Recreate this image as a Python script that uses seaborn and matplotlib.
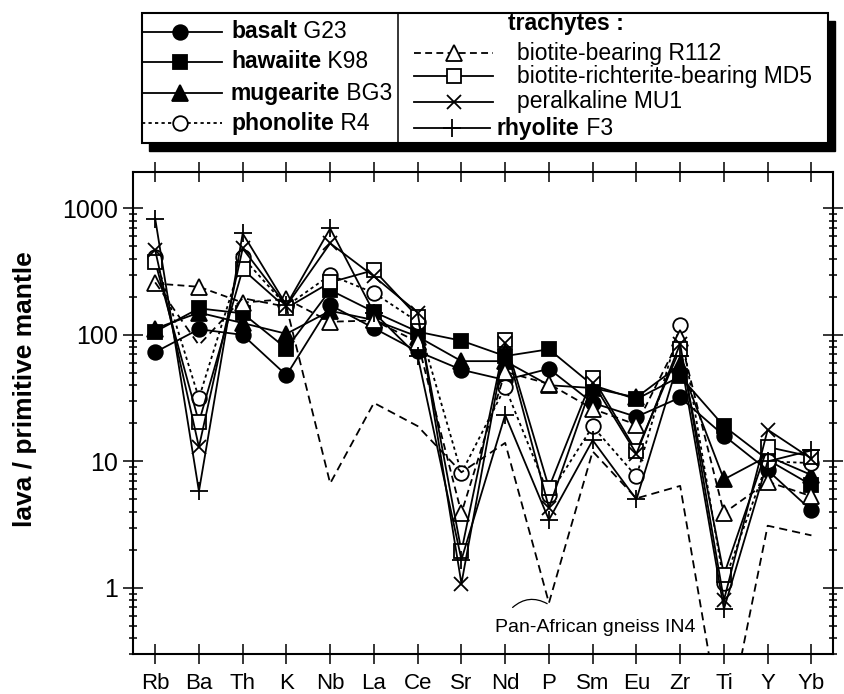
import numpy as np
import pandas as pd
import matplotlib
matplotlib.use("Agg")
import matplotlib.pyplot as plt
import seaborn as sns
from matplotlib.lines import Line2D
from matplotlib.patches import Rectangle
from matplotlib.ticker import LogLocator, NullLocator, NullFormatter, FuncFormatter

plt.rcParams['font.family'] = ['Liberation Sans', 'DejaVu Sans']

# ---------------- data ----------------
elements = ["Rb", "Ba", "Th", "K", "Nb", "La", "Ce", "Sr",
            "Nd", "P", "Sm", "Eu", "Zr", "Ti", "Y", "Yb"]

basalt_G23    = [73, 111, 100, 48, 172, 113, 74, 53, 44, 54, 29, 22.5, 32, 16, 8.5, 4.1]
hawaiite_K98  = [106, 162, 148, 78, 226, 152, 106, 90, 68, 77, 40, 31, 47, 19, 10.3, 6.5]
mugearite_BG3 = [112, 150, 124, 102, 155, 131, 97, 62, 62, 40, 38, 32, 58, 7.2, 11, 7.8]
phonolite_R4  = [410, 31.6, 410, 169, 297, 215, 127, 8.1, 38.6, 5.4, 18.9, 7.6, 120, 1.1, 10, 9.7]
biotite_R112  = [255, 240, 180, 192, 127, 130, 88, 3.9, 51, 41, 26, 19.5, 95, 3.9, 6.9, 5.3]
bio_rich_MD5  = [378, 20.4, 330, 163, 260, 325, 139, 1.95, 91, 6.2, 46, 12, 78, 1.27, 13, 10.9]
peralk_MU1    = [468, 13, 482, 170, 530, 290, 150, 1.08, 86, 4.3, 42, 11.5, 85, 0.8, 17.8, 10.5]
rhyolite_F3   = [832, 5.8, 634, 172, 694, 150, 68, 1.67, 23.3, 3.45, 14.7, 5.0, 68, 0.68, 10, 12.2]
gneiss_IN4    = [260, 83, 195, 167, 6.7, 29, 19, 8.2, 14, 0.76, 12, 5.1, 6.4, 0.06, 3.1, 2.6]

series_names = ["basalt G23", "hawaiite K98", "mugearite BG3", "phonolite R4",
                "biotite-bearing R112", "biotite-richterite-bearing MD5",
                "peralkaline MU1", "rhyolite F3", "Pan-African gneiss IN4"]
series_values = [basalt_G23, hawaiite_K98, mugearite_BG3, phonolite_R4,
                 biotite_R112, bio_rich_MD5, peralk_MU1, rhyolite_F3, gneiss_IN4]

# ---------------- styles ----------------
LW = 1.3
DOT = (0, (1.8, 1.8))
DASH = (0, (3.8, 2.4))
GDASH = (0, (4.5, 2.8))
styles = {
    "basalt G23":    dict(marker='o', ms=10.5, mfc='black', ls='-'),
    "hawaiite K98":  dict(marker='s', ms=9.5, mfc='black', ls='-'),
    "mugearite BG3": dict(marker='^', ms=11, mfc='black', ls='-'),
    "phonolite R4":  dict(marker='o', ms=10.5, mfc='white', ls=DOT),
    "biotite-bearing R112": dict(marker='^', ms=11, mfc='white', ls=DASH),
    "biotite-richterite-bearing MD5": dict(marker='s', ms=9.5, mfc='white', ls='-'),
    "peralkaline MU1": dict(marker='x', ms=10.5, mfc='black', ls='-'),
    "rhyolite F3":   dict(marker='+', ms=13, mfc='black', ls='-'),
    "Pan-African gneiss IN4": dict(marker=None, ms=0, mfc='black', ls=GDASH),
}

rows = []
for name, vals in zip(series_names, series_values):
    for i, (el, v) in enumerate(zip(elements, vals)):
        rows.append(dict(series=name, element=el, pos=i, value=v))
df = pd.DataFrame(rows)

W, H = 844, 694
fig = plt.figure(figsize=(W / 100, H / 100), dpi=100)
ax = fig.add_axes([133.3 / W, (H - 654) / H, 700 / W, 482 / H])

for name in series_names:
    st = styles[name]
    sub = df[df.series == name]
    kw = dict(color='black', linewidth=LW, linestyle=st['ls'])
    if st['marker'] is not None:
        kw.update(marker=st['marker'], markersize=st['ms'],
                  markerfacecolor=st['mfc'], markeredgecolor='black',
                  markeredgewidth=1.3)
    sns.lineplot(data=sub, x='pos', y='value', ax=ax, estimator=None,
                 sort=False, legend=False, **kw)

ax.set_yscale('log')
ax.set_ylim(0.3, 1940)
ax.set_xlim(-0.5, 15.5)
ax.set_xticks(range(len(elements)))
ax.set_xticklabels(elements)
ax.xaxis.set_minor_locator(NullLocator())
ax.yaxis.set_major_locator(LogLocator(base=10, numticks=10))
ax.yaxis.set_minor_locator(LogLocator(base=10, subs=np.arange(2, 10), numticks=20))
ax.yaxis.set_major_formatter(FuncFormatter(lambda v, p: f"{v:g}"))
ax.yaxis.set_minor_formatter(NullFormatter())
ax.set_xlabel("")
ax.set_ylabel("lava / primitive mantle", fontsize=19, fontweight='bold')
ax.yaxis.set_label_coords(-0.1376, 0.55)

ax.tick_params(which='both', direction='inout', top=True, right=True,
               width=1.1, color='black')
ax.tick_params(which='major', length=14.4)
ax.tick_params(which='minor', length=5.5)
ax.tick_params(axis='y', which='major', labelsize=18, pad=3.6)
ax.tick_params(axis='x', labelsize=16, pad=6.5)
for sp in ax.spines.values():
    sp.set_linewidth(1.5)
    sp.set_color('black')

ax.text((595 - 133.3) / 700, (654 - 628) / 482, "Pan-African gneiss IN4",
        transform=ax.transAxes, ha='center', va='center', fontsize=14)
ax.annotate("", xy=(8.96, 0.75), xytext=(8.17, 0.70),
            arrowprops=dict(arrowstyle='-', lw=0.9, color='black',
                            connectionstyle="arc3,rad=-0.35",
                            shrinkA=0, shrinkB=0))

# ---------------- legend box (pixel coordinates) ----------------
lax = fig.add_axes([0, 1 - 160 / H, 1, 160 / H])
lax.set_xlim(0, W)
lax.set_ylim(160, 0)
lax.axis('off')

bx0, by0, bx1, by1 = 142, 13, 828, 143
lax.add_patch(Rectangle((bx0 + 7, by0 + 8), bx1 - bx0, by1 - by0,
                        facecolor='black', edgecolor='black', zorder=1))
lax.add_patch(Rectangle((bx0, by0), bx1 - bx0, by1 - by0,
                        facecolor='white', edgecolor='black', lw=1.5, zorder=2))
lax.plot([398, 398], [by0, by1], color='black', lw=1.1, zorder=3)

def leg_handle(name, x0, x1, xm, y):
    st = styles[name]
    lax.add_line(Line2D([x0, x1], [y, y], color='black', lw=LW,
                        linestyle=st['ls'], zorder=3))
    lax.add_line(Line2D([xm], [y], marker=st['marker'], markersize=st['ms'],
                        markerfacecolor=st['mfc'], markeredgecolor='black',
                        markeredgewidth=1.3, linestyle='none', zorder=4))

FS = 16.5
renderer = fig.canvas.get_renderer()

def mixed_text(x, y, bold, regular):
    t = lax.text(x, y, bold, fontsize=FS, fontweight='bold', ha='left',
                 va='baseline', zorder=5)
    if regular:
        bb = t.get_window_extent(renderer)
        xe = lax.transData.inverted().transform((bb.x1, bb.y0))[0]
        lax.text(xe, y, " " + regular, fontsize=FS, ha='left',
                 va='baseline', zorder=5)

left_rows = [("basalt G23", "basalt", "G23", 31.7),
             ("hawaiite K98", "hawaiite", "K98", 61.7),
             ("mugearite BG3", "mugearite", "BG3", 93.3),
             ("phonolite R4", "phonolite", "R4", 123.3)]
for name, b, r, y in left_rows:
    leg_handle(name, bx0, 222, 180, y)
    mixed_text(231, y + 6.5, b, r)

lax.text(508, 30, "trachytes :", fontsize=FS, fontweight='bold',
         ha='left', va='baseline', zorder=5)
right_rows = [("biotite-bearing R112", 53.3),
              ("biotite-richterite-bearing MD5", 76),
              ("peralkaline MU1", 101.7)]
for name, y in right_rows:
    leg_handle(name, 414, 493, 454, y)
    lax.text(517, y + 6.5, name, fontsize=FS, ha='left', va='baseline', zorder=5)
leg_handle("rhyolite F3", 414, 490, 452, 128.3)
mixed_text(497, 128.3 + 6.5, "rhyolite", "F3")

fig.savefig("out.png", dpi=100)
